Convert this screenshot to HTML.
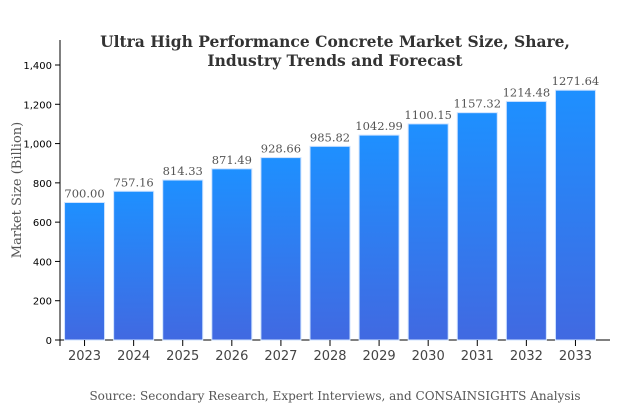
<!DOCTYPE html>
<html><head><meta charset="utf-8"><style>
body{margin:0;background:#fff}
svg{display:block}
</style></head><body>
<svg id="chart" width="630" height="410" xmlns="http://www.w3.org/2000/svg">
<defs><linearGradient id="g" x1="0" y1="0" x2="0" y2="1"><stop offset="0" stop-color="#1e90ff"/><stop offset="1" stop-color="#4169e1"/></linearGradient></defs>
<text x="335" y="47" text-anchor="middle" font-family="'DejaVu Serif','Liberation Serif',serif" font-weight="bold" font-size="15.5" fill="#333">Ultra High Performance Concrete Market Size, Share,</text>
<text x="335" y="66" text-anchor="middle" font-family="'DejaVu Serif','Liberation Serif',serif" font-weight="bold" font-size="15.5" fill="#333">Industry Trends and Forecast</text>
<text transform="translate(21,190) rotate(-90)" text-anchor="middle" font-family="'DejaVu Serif','Liberation Serif',serif" font-size="13" fill="#555">Market Size (Billion)</text>
<text x="335" y="400" text-anchor="middle" font-family="'DejaVu Serif','Liberation Serif',serif" font-size="12" fill="#555">Source: Secondary Research, Expert Interviews, and CONSAINSIGHTS Analysis</text>
<g id="plot"></g>
</svg>
<script>
const categories=["2023","2024","2025","2026","2027","2028","2029","2030","2031","2032","2033"];
const values=[700.00,757.16,814.33,871.49,928.66,985.82,1042.99,1100.15,1157.32,1214.48,1271.64];
const yTicks=[0,200,400,600,800,1000,1200,1400];
const ns="http://www.w3.org/2000/svg";
const g=document.getElementById('plot');
const x0=60,x1=600,y0=340,yMax=1400,yTopPx=65;
const y=v=>y0-(v/yMax)*(y0-yTopPx);
const step=(x1-x0)/categories.length;
const bw=40;
const xc=i=>x0+step*(i+0.5);
function mk(t,a){const e=document.createElementNS(ns,t);for(const k in a)e.setAttribute(k,a[k]);g.appendChild(e);return e;}
let e;
e=mk('line',{x1:x0,y1:40,x2:x0,y2:y0,stroke:'#000','stroke-width':1});


e=mk('line',{x1:x0,y1:y0,x2:610,y2:y0,stroke:'#000','stroke-width':1});


yTicks.forEach(t=>{
 e=mk('line',{x1:x0-5,y1:y(t),x2:x0,y2:y(t),stroke:'#000'});
 
 
 e=mk('text',{x:x0-8,y:y(t)+4,'text-anchor':'end','font-family':"'DejaVu Sans','Liberation Sans',sans-serif",'font-size':10,fill:'#000'});
 e.textContent=t.toLocaleString('en-US');
 
 
});
e=mk('line',{x1:x0,y1:y0,x2:x0,y2:y0+6,stroke:'#000'});


categories.forEach((c,i)=>{
 const v=values[i];
 e=mk('rect',{x:xc(i)-bw/2,y:y(v),width:bw,height:y0-y(v),fill:'url(#g)',stroke:'#cfe3ff','stroke-width':1});
 
 
 e=mk('text',{x:xc(i),y:y(v)-5,'text-anchor':'middle','font-family':"'DejaVu Serif','Liberation Serif',serif",'font-size':11.5,fill:'#555'});
 e.textContent=v.toFixed(2);
 
 
 e=mk('line',{x1:xc(i),y1:y0,x2:xc(i),y2:y0+6,stroke:'#000'});
 
 
 e=mk('text',{x:xc(i),y:y0+20,'text-anchor':'middle','font-family':"'DejaVu Sans','Liberation Sans',sans-serif",'font-size':13,fill:'#444'});
 e.textContent=c;
 
 
});
</script>
</body></html>
